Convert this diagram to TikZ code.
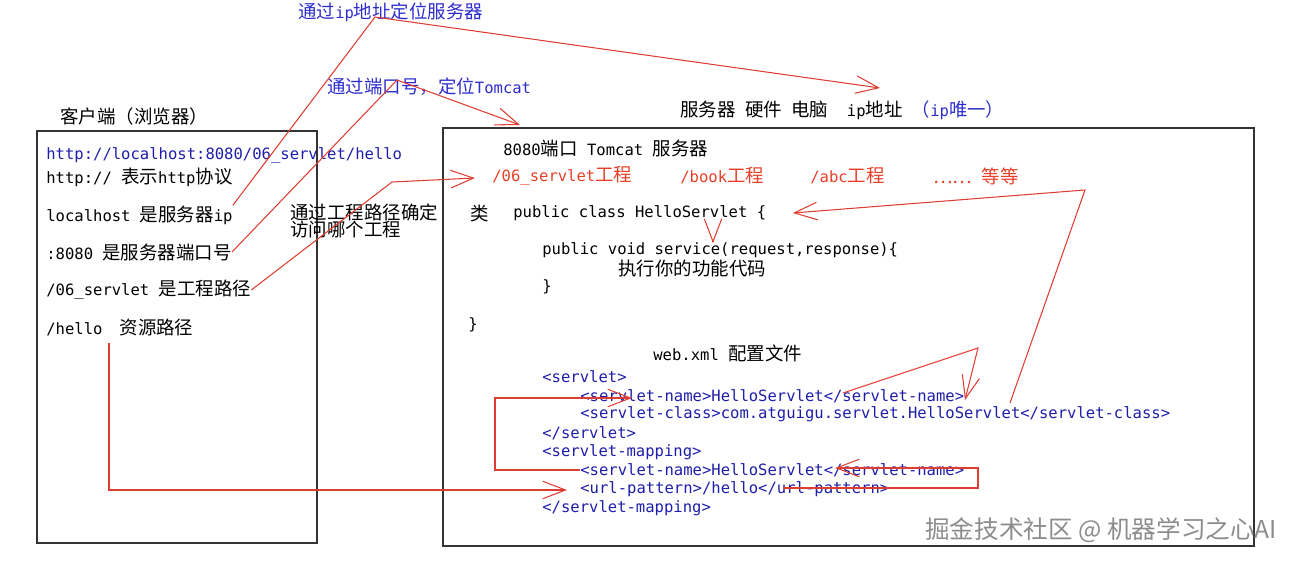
\documentclass[tikz,border=0pt]{standalone}
\usepackage{fontspec}
\setmainfont{DejaVu Sans Mono}[Scale=0.843]
\newfontfamily\cjkfont{Noto Sans CJK SC}
\usepackage{xcolor}
\usepackage{tikz}
\usetikzlibrary{arrows.meta, positioning}

% switch to the CJK family for Chinese characters
\XeTeXinterchartokenstate=1
\newXeTeXintercharclass\cjkcls
\makeatletter
\count@="3000
\loop\XeTeXcharclass\count@=\cjkcls \ifnum\count@<"303F \advance\count@\@ne\repeat
\count@="4E00
\loop\XeTeXcharclass\count@=\cjkcls \ifnum\count@<"9FFF \advance\count@\@ne\repeat
\count@="FF00
\loop\XeTeXcharclass\count@=\cjkcls \ifnum\count@<"FFEF \advance\count@\@ne\repeat
\XeTeXcharclass"2026=\cjkcls
\makeatother
\XeTeXinterchartoks 0 \cjkcls = {\cjkfont}
\XeTeXinterchartoks 4095 \cjkcls = {\cjkfont}
\XeTeXinterchartoks \cjkcls 0 = {\rmfamily}
\XeTeXinterchartoks \cjkcls 4095 = {\rmfamily}

\definecolor{penred}{RGB}{222,62,50}
\definecolor{inkblue}{RGB}{45,45,205}
\definecolor{xmlblue}{RGB}{30,30,170}
\definecolor{projred}{RGB}{232,64,40}
\tikzset{>={Straight Barb[length=13pt, width=10pt]},
         every node/.style={inner sep=0pt, anchor=west,
                            font=\fontsize{10.5pt}{10pt}\selectfont},
         box/.style={draw=black!80, line width=0.8pt, anchor=center},
         hint/.style={text=inkblue},
         proj/.style={text=projred},
         xml/.style={text=xmlblue},
         wire/.style={draw=penred, line width=0.6pt},
         }

\begin{document}
\begin{tikzpicture}[x=0.02cm, y=-0.02cm]
    \useasboundingbox (0,0) rectangle (1303,561);

    % the two boxes
    \node[box, minimum width=5.6cm, minimum height=8.24cm] (client) at (177,337) {};
    \node[box, minimum width=16.22cm, minimum height=8.36cm] (server) at (848.5,337) {};

    % titles and hints
    \node (cltitle) at (60,116) {客户端（浏览器）};
    \node (hwtitle) at (680,110) {服务器 硬件 电脑 \ ip地址 \textcolor{inkblue}{（ip唯一）}};
    \node[hint] (iphint) at (298,12) {通过ip地址定位服务器};
    \node[hint] (porthint) at (327,87) {通过端口号，定位Tomcat};
    \node[align=left] (projhint) at (290,221) {通过工程路径确定\\访问哪个工程};

    % client side
    \node[xml] (url) at (46,155) {http://localhost:8080/06\_servlet/hello};
    \node (lhttp) at (46,177) {http:// 表示http协议};
    \node (lip) at (46,215) {localhost 是服务器ip};
    \node (lport) at (46,252) {:8080 是服务器端口号};
    \node (lproj) at (46,290) {/06\_servlet 是工程路径};
    \node (lres) at (46,327) {/hello\hspace{1.1em}资源路径};

    % server side
    \node (tomcat) at (503,148) {8080端口 Tomcat 服务器};
    \node[proj] (proj1) at (492,176) {/06\_servlet工程};
    \node[proj] (proj2) at (680,176) {/book工程};
    \node[proj] (proj3) at (810,176) {/abc工程};
    \node[proj] (proj4) at (933,176) {…… 等等};
    \node (clsword) at (470,213) {类};
    \node (clsdecl) at (513,213) {public class HelloServlet \{};
    \node (svcdecl) at (542,250) {public void service(request,response)\{};
    \node (svcbody) at (618,268) {执行你的功能代码};
    \node (svcend) at (542,287) {\}};
    \node (clsend) at (468,325) {\}};
    \node (webxml) at (653,353) {web.xml 配置文件};

    \node[xml] (xsrv) at (542,377) {<servlet>};
    \node[xml] (xname) at (580,396) {<servlet-name>HelloServlet</servlet-name>};
    \node[xml] (xclass) at (580,414) {<servlet-class>com.atguigu.servlet.HelloServlet</servlet-class>};
    \node[xml] (xsrvend) at (542,433) {</servlet>};
    \node[xml] (xmap) at (542,452) {<servlet-mapping>};
    \node[xml] (xmname) at (580,470) {<servlet-name>HelloServlet</servlet-name>};
    \node[xml] (xurl) at (580,489) {<url-pattern>/hello</url-pattern>};
    \node[xml] (xmapend) at (542,508) {</servlet-mapping>};

    \node[text=black!45, font={\XeTeXinterchartokenstate=0 \cjkfont\fontsize{14pt}{14pt}\selectfont}] (mark) at (925,530) {掘金技术社区 @ 机器学习之心AI};

    % free ends of the red strokes
    \coordinate (ipturn) at (375,17);
    \coordinate (iptip) at (880,88);
    \coordinate (portturn) at (397,80);
    \coordinate (porttip) at (520,125);
    \coordinate (projturn) at (392,182);
    \coordinate (projtip) at (475,178);
    \coordinate (resfoot) at (109,343);
    \coordinate (urltip) at (567,490);
    \coordinate (loopstart) at (783,488);
    \coordinate (loopcorner) at (978,488);
    \coordinate (looptip) at (835,468);
    \coordinate (brkfoot) at (495,470);
    \coordinate (brktip) at (632,398);
    \coordinate (clsstart) at (1010,403);
    \coordinate (clsturn) at (1085,190);
    \coordinate (namestart) at (843,393);
    \coordinate (nameturn) at (978,348);
    \coordinate (nametip) at (965,400);
    \coordinate (svcmark) at (713,242);
    \coordinate (svctip) at (713,243);

    \draw[wire, ->] (lip.north east) -- (ipturn) -- (iptip);
    \draw[wire, ->] (lport.east) -- (portturn) -- (porttip);
    \draw[wire, ->] (lproj.east) -- (projturn) -- (projtip);
    \draw[wire, ->] (resfoot) |- (urltip);
    \draw[wire, ->] (loopstart) -- (loopcorner) |- (looptip);
    \draw[wire, ->] (xmname.west) -- (brkfoot) |- (brktip);
    \draw[wire, ->] (clsstart) -- (clsturn) -- ([xshift=15pt]clsdecl.east);
    \draw[wire, ->] (namestart) -- (nameturn) -- (nametip);
    \draw[wire, ->] (svcmark) -- (svctip);
\end{tikzpicture}
\end{document}
